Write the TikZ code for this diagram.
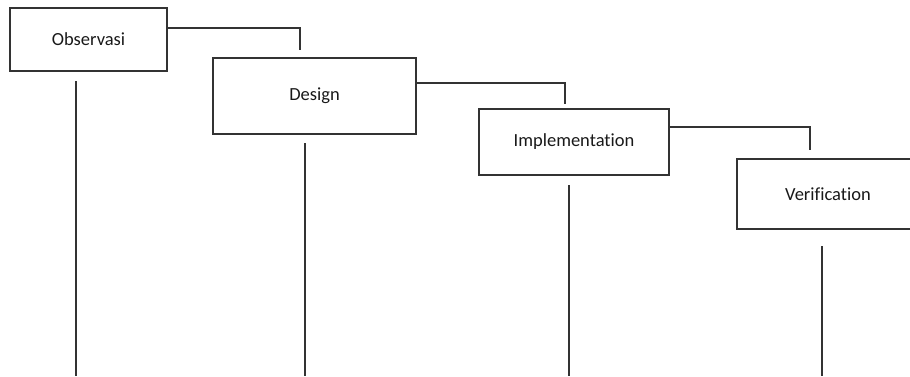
\documentclass[tikz,border=0pt]{standalone}
\usepackage{fontspec}
\setmainfont[Ligatures={NoCommon}]{Carlito}
\begin{document}
\begin{tikzpicture}[x=1pt,y=-1pt,
  box/.style={draw=black!80,line width=1.2pt,rectangle,inner sep=0pt,outer sep=0pt,
    font=\fontsize{18.5}{22}\selectfont,text=black!90},
  conn/.style={draw=black!80,line width=1.2pt}]
\useasboundingbox (0,0) rectangle (910,376);
\clip (0,0) rectangle (910,376);
\node[box,minimum width=157pt,minimum height=63pt] (obs) at (88.5,39.5) {Observasi};
\node[box,minimum width=203pt,minimum height=76pt] (des) at (314.5,96) {Design};
\node[box,minimum width=190pt,minimum height=66pt] (imp) at (574,142) {Implementation};
\node[box,minimum width=182pt,minimum height=70pt] (ver) at (828,194) {Verification};
% stubs toward next step
\coordinate (t1) at (300,50);
\coordinate (t2) at (565,104);
\coordinate (t3) at (810,150);
\draw[conn] (obs.east |- 0,28) -| (t1);
\draw[conn] (des.east |- 0,83) -| (t2);
\draw[conn] (imp.east |- 0,127) -| (t3);
% lifelines
\coordinate (v1a) at (76,81);   \coordinate (v1b) at (76,376);
\coordinate (v2a) at (305,143); \coordinate (v2b) at (305,376);
\coordinate (v3a) at (569,185); \coordinate (v3b) at (569,376);
\coordinate (v4a) at (822,246); \coordinate (v4b) at (822,376);
\draw[conn] (v1a) -- (v1b);
\draw[conn] (v2a) -- (v2b);
\draw[conn] (v3a) -- (v3b);
\draw[conn] (v4a) -- (v4b);
\end{tikzpicture}
\end{document}
